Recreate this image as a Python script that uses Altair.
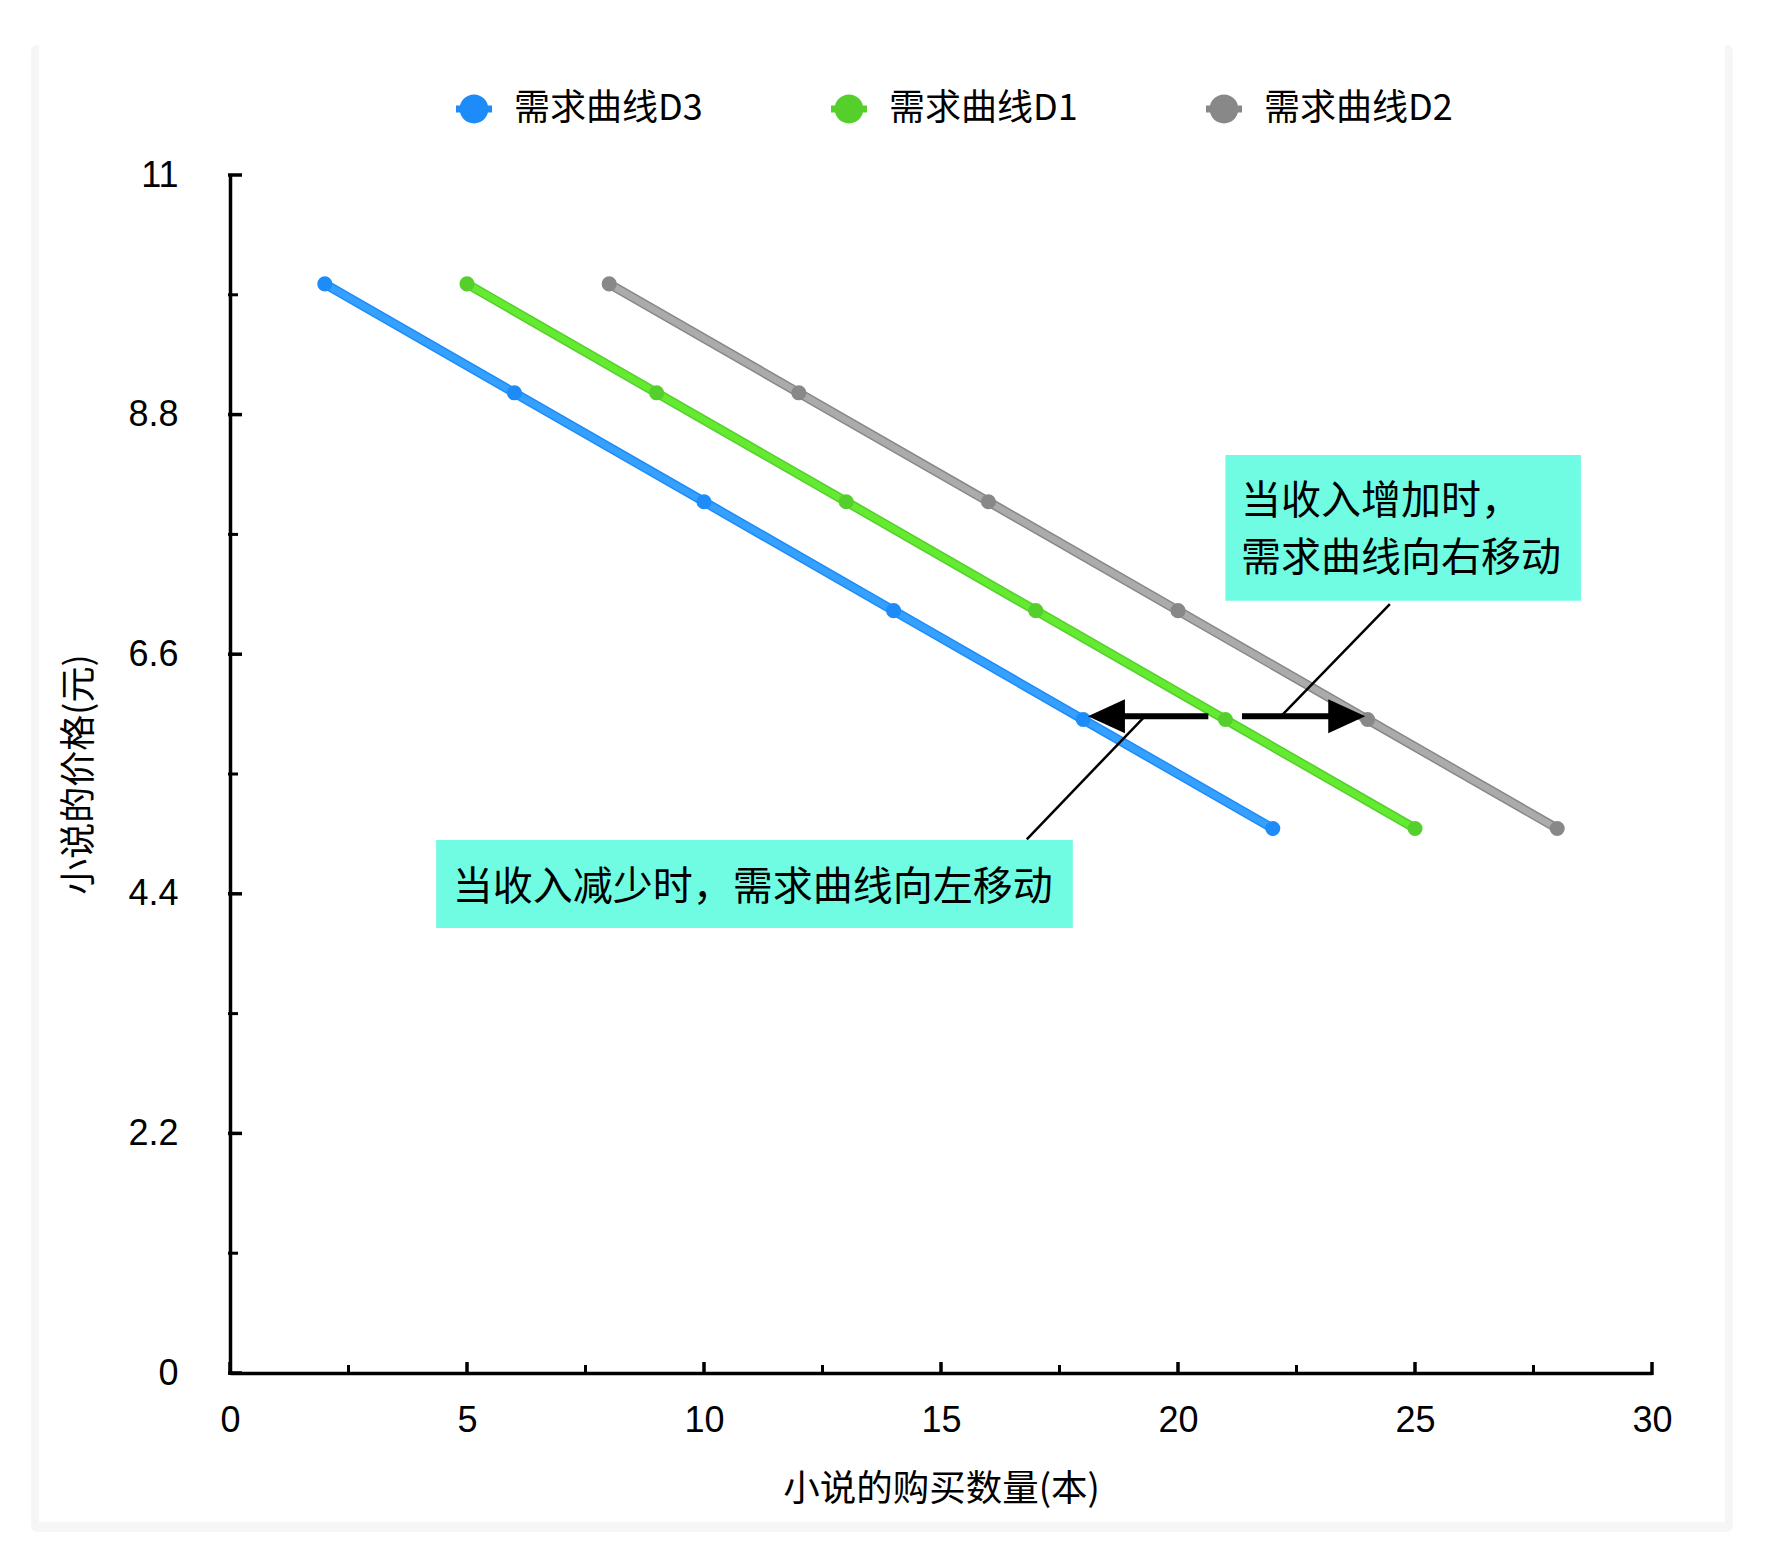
import altair as alt
import pandas as pd

# ---------------- data ----------------
series_names = ["需求曲线D3", "需求曲线D1", "需求曲线D2"]
qty_d3 = [2, 6, 10, 14, 18, 22]
qty_d1 = [5, 9, 13, 17, 21, 25]
qty_d2 = [8, 12, 16, 20, 24, 28]
price = [10, 9, 8, 7, 6, 5]

x_ticks = [0, 5, 10, 15, 20, 25, 30]
x_minor = [2.5, 7.5, 12.5, 17.5, 22.5, 27.5]
y_ticks = [0, 2.2, 4.4, 6.6, 8.8, 11]
y_minor = [1.1, 3.3, 5.5, 7.7, 9.9]

x_title = "小说的购买数量(本)"
y_title = "小说的价格(元)"
note_up = ["当收入增加时，", "需求曲线向右移动"]
note_down = ["当收入减少时，需求曲线向左移动"]

# ---------------- styles ----------------
dark_colors = ["#1d8cf8", "#55cf2c", "#888888"]
light_colors = ["#36a0ff", "#63ea31", "#ababab"]
box_color = "#6ffce2"
CJK = "Noto Sans CJK SC"
LAT = "Liberation Sans"
W, H = 1422, 1198

rows = []
for name, qs in zip(series_names, [qty_d3, qty_d1, qty_d2]):
    for q, p in zip(qs, price):
        rows.append({"x": q, "y": p, "series": name})
df = pd.DataFrame(rows)

xs = alt.Scale(domain=[0, 30], nice=False, zero=False)
ys = alt.Scale(domain=[0, 11], nice=False, zero=False)
xaxis = alt.Axis(values=x_ticks, format="d", ticks=False, tickSize=0, grid=False, zindex=1,
                 domainColor="black", domainWidth=3.5, labelFont=LAT, labelFontSize=36,
                 labelColor="black", labelPadding=30, labelFlush=False, labelOverlap=False,
                 title=x_title, titleFont=CJK, titleFontSize=36.5, titleFontWeight="normal",
                 titleColor="black", titleY=116, titleBaseline="middle")
yaxis = alt.Axis(values=y_ticks, format=".2~f", ticks=False, tickSize=0, grid=False, zindex=1,
                 domainColor="black", domainWidth=3.5, labelFont=LAT, labelFontSize=36,
                 labelColor="black", labelPadding=52, labelFlush=False, labelOverlap=False,
                 title=y_title, titleFont=CJK, titleFontSize=36, titleFontWeight="normal",
                 titleColor="black", titleX=-151, titleBaseline="middle")


def X(f):
    return alt.X(f, type="quantitative", scale=xs, axis=xaxis)


def Y(f):
    return alt.Y(f, type="quantitative", scale=ys, axis=yaxis)


dark_scale = alt.Scale(domain=series_names, range=dark_colors)
light_scale = alt.Scale(domain=series_names, range=light_colors)

legend_symbol = ("M-1,-0.2 L1,-0.2 L1,0.2 L-1,0.2 Z "
                 "M-0.8,0 A0.8,0.8 0 1,1 0.8,0 A0.8,0.8 0 1,1 -0.8,0 Z")
legend = alt.Legend(title=None, orient="none", legendX=226, legendY=-84,
                    direction="horizontal", symbolType=legend_symbol, symbolSize=1296,
                    symbolStrokeWidth=0, labelFont=CJK, labelFontSize=36, labelColor="black",
                    labelOffset=22, columnPadding=128, padding=0, labelLimit=400)

one = pd.DataFrame({"k": [0]})
shadow = alt.Chart(one).mark_rect(color="black", opacity=0.035, cornerRadius=6).encode(
    x=alt.value(-199), x2=alt.value(W + 81), y=alt.value(-130), y2=alt.value(H + 159))
card = alt.Chart(one).mark_rect(color="white").encode(
    x=alt.value(-191), x2=alt.value(W + 73), y=alt.value(-136), y2=alt.value(H + 149))

line_outer = alt.Chart(df).mark_line(strokeWidth=9.5).encode(
    x=X("x"), y=Y("y"), color=alt.Color("series:N", scale=dark_scale, legend=None))
line_inner = alt.Chart(df).mark_line(strokeWidth=6.5).encode(
    x=X("x"), y=Y("y"), color=alt.Color("series:N", scale=light_scale, legend=None))
points = alt.Chart(df).mark_point(filled=True, size=227, opacity=1).encode(
    x=X("x"), y=Y("y"), color=alt.Color("series:N", scale=dark_scale, legend=legend))

# inward ticks
xt_major = alt.Chart(pd.DataFrame({"v": x_ticks})).mark_rule(color="black", strokeWidth=3.5).encode(
    x=X("v"), y=alt.value(H + 2), y2=alt.value(H - 11))
xt_minor = alt.Chart(pd.DataFrame({"v": x_minor})).mark_rule(color="black", strokeWidth=3).encode(
    x=X("v"), y=alt.value(H + 2), y2=alt.value(H - 8))
yt_major = alt.Chart(pd.DataFrame({"v": y_ticks})).mark_rule(color="black", strokeWidth=3.5).encode(
    y=Y("v"), x=alt.value(-2), x2=alt.value(12))
yt_minor = alt.Chart(pd.DataFrame({"v": y_minor})).mark_rule(color="black", strokeWidth=3).encode(
    y=Y("v"), x=alt.value(-2), x2=alt.value(8))

# annotations (data coordinates)
shafts = pd.DataFrame({"x": [20.64, 21.35], "x2": [18.45, 23.6], "y": [6.03, 6.03]})
heads = pd.DataFrame({"x": [18.49, 23.56], "y": [6.03, 6.03], "d": ["l", "r"]})
leaders = pd.DataFrame({"x": [24.47, 16.81], "y": [7.06, 4.90], "x2": [22.17, 19.30], "y2": [6.03, 6.03]})
boxes = pd.DataFrame({"x": [21.0, 4.35], "x2": [28.5, 17.78], "y": [8.43, 4.894], "y2": [7.09, 4.086]})
texts = pd.DataFrame({"x": [21.33, 21.33, 4.70],
                      "y": [8.0, 7.47, 4.45],
                      "t": note_up + note_down})

path_l = "M-1,0 L1,-0.92 L1,0.92 Z"
path_r = "M1,0 L-1,-0.92 L-1,0.92 Z"

shaft_l = alt.Chart(shafts).mark_rule(color="black", strokeWidth=6).encode(
    x=X("x"), x2="x2", y=Y("y"))
head_l = alt.Chart(heads).mark_point(filled=True, color="black", size=1369, opacity=1, strokeWidth=0).encode(
    x=X("x"), y=Y("y"),
    shape=alt.Shape("d:N", scale=alt.Scale(domain=["l", "r"], range=[path_l, path_r]), legend=None))
leader_l = alt.Chart(leaders).mark_rule(color="black", strokeWidth=2.5).encode(
    x=X("x"), y=Y("y"), x2="x2", y2="y2")
box_l = alt.Chart(boxes).mark_rect(color=box_color).encode(
    x=X("x"), x2="x2", y=Y("y"), y2="y2")
text_l = alt.Chart(texts).mark_text(align="left", baseline="middle", font=CJK, fontSize=40,
                                    color="black").encode(x=X("x"), y=Y("y"), text="t:N")

chart = alt.layer(
    shadow, card, line_outer, line_inner, points, xt_major, xt_minor, yt_major, yt_minor,
    shaft_l, head_l, leader_l, box_l, text_l
).resolve_scale(color="independent").properties(
    width=W, height=H,
    autosize=alt.AutoSizeParams(type="none"),
    padding={"left": 222, "top": 167, "right": 106, "bottom": 181},
    background="white",
).configure_view(stroke=None)

chart.save("out.html", embed_options={"renderer": "svg", "actions": False})
